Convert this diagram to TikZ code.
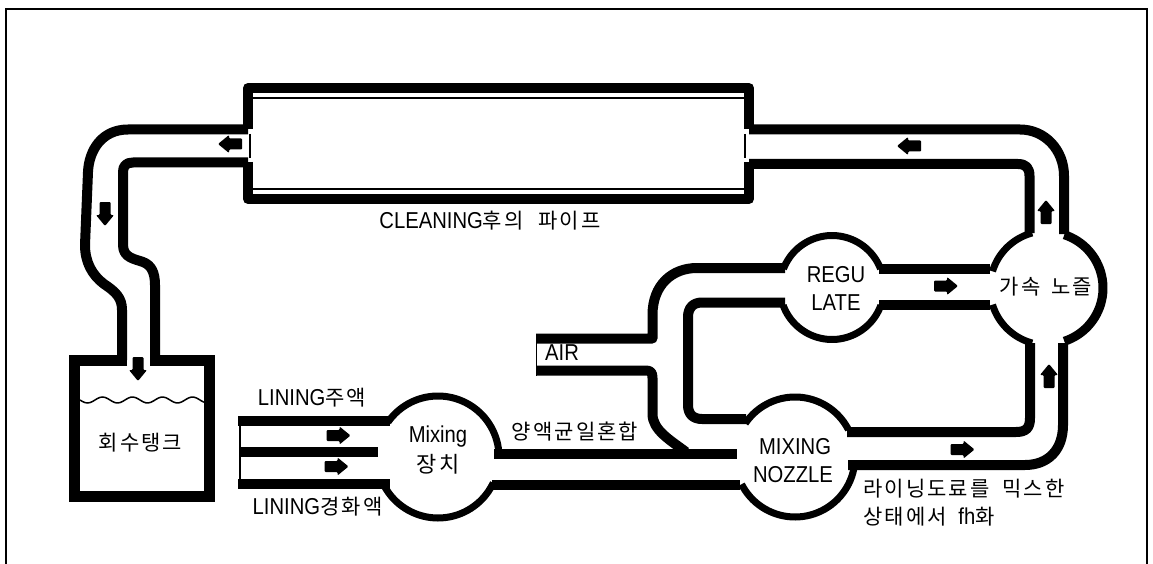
\documentclass[tikz,border=0pt]{standalone}
\usepackage{fontspec}
\setmainfont[FakeStretch=0.88]{Liberation Sans}
\newfontfamily\kr[LetterSpace=10]{Noto Sans CJK KR}
\newcommand\ringarc[6][7]{%
  \draw[line width=#1pt,line cap=butt] plot[smooth,domain=#5:#6,samples=40,variable=\t] ({#2+#4*cos(\t)},{#3-#4*sin(\t)});}
\newcommand\flowarrow[3]{%
  \fill[black,shift={(#1,#2)},rotate=#3,rounded corners=1pt] (-12,-5.5)--(1,-5.5)--(1,-9)--(12,0)--(1,9)--(1,5.5)--(-12,5.5)--cycle;}
\tikzset{
  wall/.style={draw=black,line width=10pt,line join=round},
  thin/.style={draw=black,line width=1.5pt},
  lbl/.style={inner sep=0pt,font=\fontsize{23}{26}\selectfont,align=center},
}
\begin{document}
\begin{tikzpicture}[x=1pt,y=-1pt]
\useasboundingbox (0,0) rectangle (1153,564);
\fill[white] (0,0) rectangle (1153,564);
% frame
\draw[line width=1.6pt] (6,564)--(6,9)--(1147,9)--(1147,564);
% cleaning pipe
\draw[wall] (248,129)--(248,88)--(749,88)--(749,129);
\draw[wall] (248,162)--(248,199)--(749,199)--(749,162);
\draw[thin] (252,98)--(744,98);
\draw[thin] (252,189)--(744,189);
\draw[thin] (250,134)--(250,158);
\draw[thin] (745,134)--(745,158);
% left return pipe
\draw[wall] (248,129.5)--(128,129.5) .. controls (102,129.5) and (89,150) .. (88,172)
  -- (85,245) .. controls (85,262) and (92,275) .. (104,284) .. controls (116,292) and (122,298) .. (122,310) -- (122,360);
\draw[wall] (248,162.5)--(133,162.5) .. controls (126,162.5) and (123,166) .. (123,172)
  -- (123,245) .. controls (123,258) and (135,259) .. (143,262) .. controls (151,265) and (155,272) .. (155,285) -- (155,360);
% tank
\draw[line width=11pt,line join=miter] (127,360)--(74,360)--(74,496.5)--(209,496.5)--(209,360)--(150,360);
\draw[thin] plot[smooth,domain=80:204,samples=50,variable=\t] (\t,{400+3*sin(12*(\t-80))});
% lining pipes
\draw[wall] (238,420.5)--(390,420.5);
\draw[wall] (240,451.5)--(378,451.5);
\draw[wall] (238,483.5)--(390,483.5);
\draw[thin] (240,425)--(240,479);
% mixing
\ringarc{438}{457}{61}{145}{5}
\ringarc{438}{457}{61}{208}{335}
\draw[wall] (494,454)--(737,454);
\draw[wall] (492,485)--(740,485);
% air
\draw[thin] (536.5,336)--(536.5,376);
\draw[wall] (536,338.5)--(652.5,338.5)--(652.5,315) .. controls (652.5,285) and (672,268) .. (697,268)--(785,268);
\draw[wall] (536,370.5)--(646,370.5) .. controls (651,370.5) and (652.5,373) .. (652.5,378)--(652.5,414) .. controls (652.5,430) and (670,440) .. (686,452);
% regulate
\ringarc{832}{287.5}{52}{159}{21}
\ringarc{832}{287.5}{52}{200}{340}
\draw[wall] (879,268.5)--(990,268.5);
\draw[wall] (879,304.5)--(990,304.5);
\draw[wall] (785,302.5)--(702,302.5) .. controls (693,302.5) and (688,308) .. (688,317)
  -- (688,405) .. controls (688,414) and (693,419) .. (702,419) -- (746,419);
% accel
\ringarc{1047}{288}{57}{163}{105}
\ringarc[9]{1047}{288}{56}{72}{-72}
\ringarc{1047}{288}{57}{197}{255}
% top right pipe
\draw[wall] (749,129.5)--(1020,129.5) .. controls (1045,129.5) and (1064,150) .. (1064,176) -- (1064,234);
\draw[wall] (749,164)--(1018,164) .. controls (1026,164) and (1029.5,168) .. (1029.5,176) -- (1029.5,233);
% lower right pipe
\draw[wall] (1063,343)--(1063,425) .. controls (1063,450) and (1048,465) .. (1025,465) -- (848,465);
\draw[wall] (1030,343)--(1030,418) .. controls (1030,428) and (1026,432) .. (1016,432) -- (847,432);
% nozzle
\ringarc{795}{457}{60}{146}{27}
\ringarc{795}{457}{60}{207}{352}
% arrows
\flowarrow{230}{144}{180}
\flowarrow{105}{214}{-90}
\flowarrow{138}{369}{-90}
\flowarrow{909}{146}{180}
\flowarrow{1046}{212}{90}
\flowarrow{946}{286}{0}
\flowarrow{1049}{376}{90}
\flowarrow{962.5}{449.5}{0}
\flowarrow{338.5}{435.5}{0}
\flowarrow{336.5}{466.5}{0}
% labels
\node[lbl] (clean) at (490,221) {CLEANING{\kr\fontsize{21}{24}\selectfont 후의\hspace{8pt} 파이프}};
\node[lbl] (tank) at (140.5,443) {\kr\fontsize{21}{24}\selectfont 회수탱크};
\node[lbl] (l1) at (312,398) {LINING{\kr\fontsize{21}{24}\selectfont 주액}};
\node[lbl] (l2) at (317.5,507) {LINING{\kr\fontsize{21}{24}\selectfont 경화액}};
\node[lbl] (mix1) at (438,437) {Mixing};
\node[lbl] (mix2) at (438,464) {\kr\fontsize{22}{24}\selectfont 장치};
\node[lbl] (ev) at (575,432) {\kr\fontsize{21}{24}\selectfont 양액균일혼합};
\node[lbl] (air) at (562,353) {AIR};
\node[lbl] (reg1) at (836,275) {REGU};
\node[lbl] (reg2) at (836,303) {LATE};
\node[lbl] (acc) at (1046,287) {\kr\fontsize{21}{24}\selectfont 가속\hspace{4pt} 노즐};
\node[lbl] (noz1) at (795,447) {MIXING};
\node[lbl] (noz2) at (793,475) {NOZZLE};
\node[lbl,anchor=west] (c1) at (863,489) {\kr\fontsize{21}{24}\selectfont 라이닝도료를\hspace{6pt} 믹스한};
\node[lbl,anchor=west] (c2) at (863,517) {{\kr\fontsize{21}{24}\selectfont 상태에서}\hspace{6pt} fh{\kr\fontsize{21}{24}\selectfont 화}};
\end{tikzpicture}
\end{document}
